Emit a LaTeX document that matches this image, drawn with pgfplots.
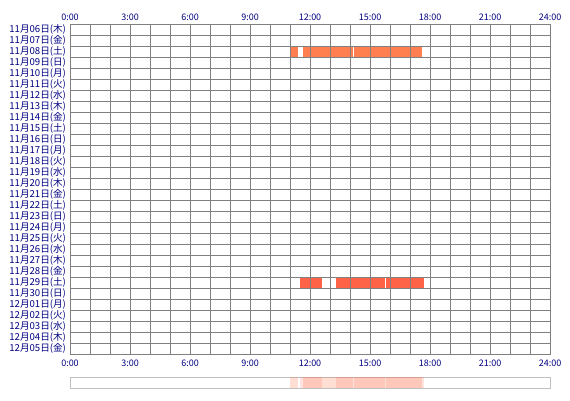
\documentclass[border=0pt]{standalone}
\usepackage{fontspec}
\setmainfont{Noto Sans CJK JP}
\usepackage{pgfplots}
\pgfplotsset{compat=1.18}
\definecolor{navy}{RGB}{0,0,128}
\definecolor{gridgray}{RGB}{128,128,128}
\definecolor{boxgray}{RGB}{192,192,192}
\definecolor{barA}{RGB}{255,127,80}
\definecolor{barB}{RGB}{255,99,71}
\begin{document}
\begin{tikzpicture}[x=1pt,y=1pt]
\useasboundingbox (0,0) rectangle (570,400);
\begin{axis}[at={(70pt,46pt)}, anchor=south west, scale only axis,
  width=480pt, height=330pt,
  xmin=0, xmax=24, ymin=0, ymax=30, y dir=reverse,
  xtick={0,3,...,24},
  xticklabels={0:00,3:00,6:00,9:00,12:00,15:00,18:00,21:00,24:00},
  minor xtick={0,1,...,24}, minor ytick={0,1,...,30},
  ytick={0.5,1.5,...,29.5},
  yticklabels={11月06日(木),11月07日(金),11月08日(土),11月09日(日),11月10日(月),11月11日(火),11月12日(水),11月13日(木),11月14日(金),11月15日(土),11月16日(日),11月17日(月),11月18日(火),11月19日(水),11月20日(木),11月21日(金),11月22日(土),11月23日(日),11月24日(月),11月25日(火),11月26日(水),11月27日(木),11月28日(金),11月29日(土),11月30日(日),12月01日(月),12月02日(火),12月03日(水),12月04日(木),12月05日(金)},
  major tick length=0, minor tick length=0,
  xminorgrids, yminorgrids,
  minor grid style={gridgray, line width=1pt},
  axis line style={gridgray, line width=1pt},
  axis on top,
  tick label style={font=\fontsize{9}{9}\selectfont, text=navy},
  yticklabel style={font=\fontsize{9.6}{9.6}\selectfont, xshift=-0.5pt},
  xticklabel style={yshift=-2pt},
]
% 11/08
\addplot[fill=barA, draw=none] coordinates {(11.0,2) (11.4,2) (11.4,3) (11.0,3)} --cycle;
\addplot[fill=barA, draw=none] coordinates {(11.65,2) (14.13,2) (14.13,3) (11.65,3)} --cycle;
\addplot[fill=barA, draw=none] coordinates {(14.18,2) (17.6,2) (17.6,3) (14.18,3)} --cycle;
% 11/29
\addplot[fill=barB, draw=none] coordinates {(11.5,23) (12.6,23) (12.6,24) (11.5,24)} --cycle;
\addplot[fill=barB, draw=none] coordinates {(13.3,23) (15.75,23) (15.75,24) (13.3,24)} --cycle;
\addplot[fill=barB, draw=none] coordinates {(15.8,23) (17.7,23) (17.7,24) (15.8,24)} --cycle;
\end{axis}
\begin{axis}[at={(70pt,46pt)}, anchor=south west, scale only axis,
  width=480pt, height=330pt,
  xmin=0, xmax=24, ymin=0, ymax=30,
  xtick={0,3,...,24},
  xticklabels={0:00,3:00,6:00,9:00,12:00,15:00,18:00,21:00,24:00},
  xticklabel pos=upper, ytick=\empty,
  major tick length=0,
  axis line style={draw=none},
  tick label style={font=\fontsize{9}{9}\selectfont, text=navy},
  xticklabel style={yshift=0pt},
]
\end{axis}
\begin{axis}[at={(70pt,12pt)}, anchor=south west, scale only axis,
  width=480pt, height=11pt,
  xmin=0, xmax=24, ymin=0, ymax=1,
  xtick=\empty, ytick=\empty,
  axis line style={boxgray, line width=1pt},
]
\addplot[fill=barA, fill opacity=0.25, draw=none] coordinates {(11.0,0) (11.4,0) (11.4,1) (11.0,1)} --cycle;
\addplot[fill=barA, fill opacity=0.25, draw=none] coordinates {(11.65,0) (14.13,0) (14.13,1) (11.65,1)} --cycle;
\addplot[fill=barA, fill opacity=0.25, draw=none] coordinates {(14.18,0) (17.6,0) (17.6,1) (14.18,1)} --cycle;
\addplot[fill=barB, fill opacity=0.18, draw=none] coordinates {(11.5,0) (12.6,0) (12.6,1) (11.5,1)} --cycle;
\addplot[fill=barB, fill opacity=0.18, draw=none] coordinates {(13.3,0) (15.75,0) (15.75,1) (13.3,1)} --cycle;
\addplot[fill=barB, fill opacity=0.18, draw=none] coordinates {(15.8,0) (17.7,0) (17.7,1) (15.8,1)} --cycle;
\end{axis}
\end{tikzpicture}
\end{document}
